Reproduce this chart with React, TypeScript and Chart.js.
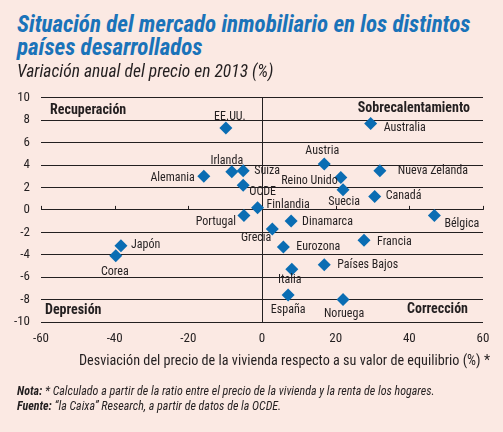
import { useEffect, useRef } from "react";
import { Chart, registerables } from "chart.js";

Chart.register(...registerables);

const countries = [
  "EE.UU.", "Alemania", "Irlanda", "Suiza", "OCDE", "Portugal", "Finlandia",
  "Austria", "Australia", "Nueva Zelanda", "Reino Unido", "Suecia", "Canadá",
  "Dinamarca", "Bélgica", "Grecia", "Eurozona", "Francia", "Países Bajos",
  "Italia", "España", "Noruega", "Japón", "Corea",
];
// desviación respecto al valor de equilibrio (%)
const deviation = [
  -9.8, -15.8, -8.2, -5.1, -5.1, -4.9, -1.2,
  16.9, 29.5, 32.0, 21.4, 22.0, 30.6,
  7.9, 46.8, 2.8, 5.8, 27.7, 16.9,
  8.1, 7.1, 22.0, -38.3, -39.7,
];
// variación anual del precio 2013 (%)
const priceChange = [
  7.3, 3.0, 3.4, 3.5, 2.2, -0.5, 0.2,
  4.1, 7.7, 3.5, 2.9, 1.8, 1.2,
  -1.0, -0.5, -1.7, -3.3, -2.7, -4.9,
  -5.3, -7.6, -8.0, -3.2, -4.1,
];
const xTicks = [-60, -40, -20, 0, 20, 40, 60];
const yTicks = [-10, -8, -6, -4, -2, 0, 2, 4, 6, 8, 10];

// label placement: [dx, dy, align]
const labelPlace: Record<string, [number, number, CanvasTextAlign]> = {
  "EE.UU.": [4, -11, "center"],
  Alemania: [-9, 2, "right"],
  Irlanda: [-5, -11, "center"],
  Suiza: [11, 0, "left"],
  OCDE: [6, 7, "left"],
  Portugal: [-8, 6, "right"],
  Finlandia: [9, -3, "left"],
  Austria: [-2, -13, "center"],
  Australia: [13, 4, "left"],
  "Nueva Zelanda": [18, 0, "left"],
  "Reino Unido": [-3, 4, "right"],
  Suecia: [1, 12, "center"],
  Canadá: [11, 0, "left"],
  Dinamarca: [11, 1, "left"],
  Bélgica: [10, 8, "left"],
  Grecia: [-1, 9, "right"],
  Eurozona: [13, 0, "left"],
  Francia: [13, 2, "left"],
  "Países Bajos": [13, 0, "left"],
  Italia: [-2, 11, "center"],
  España: [0, 15, "center"],
  Noruega: [1, 14, "center"],
  Japón: [10, -1, "left"],
  Corea: [-1, 16, "center"],
};

const FONT = '"Liberation Sans Narrow", "Roboto Condensed", Roboto, sans-serif';
const INK = "#231f20";
const BLUE = "#0a6db3";
const BG = "#fbe9e3";

const overlay = {
  id: "overlay",
  beforeDatasetsDraw(chart: any) {
    const { ctx, chartArea, scales } = chart;
    const x0 = scales.x.getPixelForValue(0);
    const y0 = scales.y.getPixelForValue(0);
    ctx.save();
    ctx.strokeStyle = INK;
    ctx.lineWidth = 1;
    ctx.beginPath();
    ctx.moveTo(Math.round(x0) + 0.5, chartArea.top);
    ctx.lineTo(Math.round(x0) + 0.5, chartArea.bottom);
    xTicks.forEach((v) => {
      const px = Math.round(scales.x.getPixelForValue(v)) + 0.5;
      ctx.moveTo(px, y0);
      ctx.lineTo(px, y0 - 4);
    });
    ctx.stroke();
    ctx.restore();
  },
  afterDatasetsDraw(chart: any) {
    const { ctx, chartArea, scales } = chart;
    ctx.save();
    ctx.fillStyle = INK;
    ctx.textBaseline = "middle";
    ctx.font = `12px ${FONT}`;
    countries.forEach((name, i) => {
      const px = scales.x.getPixelForValue(deviation[i]);
      const py = scales.y.getPixelForValue(priceChange[i]);
      const [dx, dy, align] = labelPlace[name];
      ctx.textAlign = align;
      ctx.fillText(name, px + dx, py + dy);
    });
    ctx.font = `bold 14px ${FONT}`;
    ctx.textAlign = "left";
    ctx.fillText("Recuperación", chartArea.left + 9, chartArea.top + 13);
    ctx.fillText("Depresión", chartArea.left + 4, chartArea.bottom - 12);
    ctx.textAlign = "right";
    ctx.fillText("Sobrecalentamiento", chartArea.right - 13, chartArea.top + 11);
    ctx.fillText("Corrección", chartArea.right - 15, chartArea.bottom - 13);
    ctx.restore();
  },
};

const ScatterChart = () => {
  const chartRef = useRef<HTMLCanvasElement>(null);

  useEffect(() => {
    if (!chartRef.current) return;
    const chart = new Chart(chartRef.current, {
      type: "scatter",
      data: {
        datasets: [
          {
            label: "Países",
            data: countries.map((_, i) => ({ x: deviation[i], y: priceChange[i] })),
            backgroundColor: BLUE,
            borderColor: BLUE,
            pointStyle: "rectRot",
            pointRadius: 6.5,
            pointBorderWidth: 0,
          },
        ],
      },
      options: {
        animation: false,
        responsive: true,
        maintainAspectRatio: false,
        layout: { padding: { top: 5, right: 20, left: 0, bottom: 0 } },
        plugins: { legend: { display: false }, tooltip: { enabled: false } },
        scales: {
          x: {
            min: -60,
            max: 60,
            afterBuildTicks: (s: any) => {
              s.ticks = xTicks.map((v) => ({ value: v }));
            },
            afterFit: (s: any) => {
              s.height = 53;
            },
            grid: { display: false, drawTicks: false },
            border: { display: false },
            ticks: { padding: 9, color: INK, font: { family: FONT, size: 13 }, maxRotation: 0 },
          },
          y: {
            min: -10,
            max: 10,
            afterBuildTicks: (s: any) => {
              s.ticks = yTicks.map((v) => ({ value: v }));
            },
            afterFit: (s: any) => {
              s.width = 41;
            },
            grid: { color: INK, lineWidth: 1, drawTicks: false },
            border: { display: false },
            ticks: { padding: 11, color: INK, font: { family: FONT, size: 13 } },
          },
        },
      },
      plugins: [overlay],
    });
    return () => chart.destroy();
  }, []);

  return (
    <div style={{ position: "absolute", left: 0, top: 79, width: 503, height: 296 }}>
      <canvas ref={chartRef}></canvas>
    </div>
  );
};

export default function App() {
  return (
    <div
      style={{
        position: "fixed",
        left: 0,
        top: 0,
        width: 503,
        height: 432,
        background: BG,
        fontFamily: FONT,
        color: INK,
        overflow: "hidden",
      }}
    >
      <ScatterChart />
      <div
        style={{
          position: "absolute",
          left: 17,
          top: 13,
          color: "#1a73b9",
          fontWeight: "bold",
          fontStyle: "italic",
          fontSize: 23,
          lineHeight: "23px",
        }}
      >
        Situación del mercado inmobiliario en los distintos
        <br />
        países desarrollados
      </div>
      <div style={{ position: "absolute", left: 17, top: 61, fontStyle: "italic", fontSize: 17.5 }}>
        Variación anual del precio en 2013 (%)
      </div>
      <div style={{ position: "absolute", right: 13, top: 352, fontSize: 14.2 }}>
        Desviación del precio de la vivienda respecto a su valor de equilibrio (%) *
      </div>
      <div style={{ position: "absolute", left: 17, top: 384, fontStyle: "italic", fontSize: 12, lineHeight: "15px" }}>
        <b>Nota:</b> * Calculado a partir de la ratio entre el precio de la vivienda y la renta de los hogares.
        <br />
        <b>Fuente:</b> “la Caixa” Research, a partir de datos de la OCDE.
      </div>
    </div>
  );
}
